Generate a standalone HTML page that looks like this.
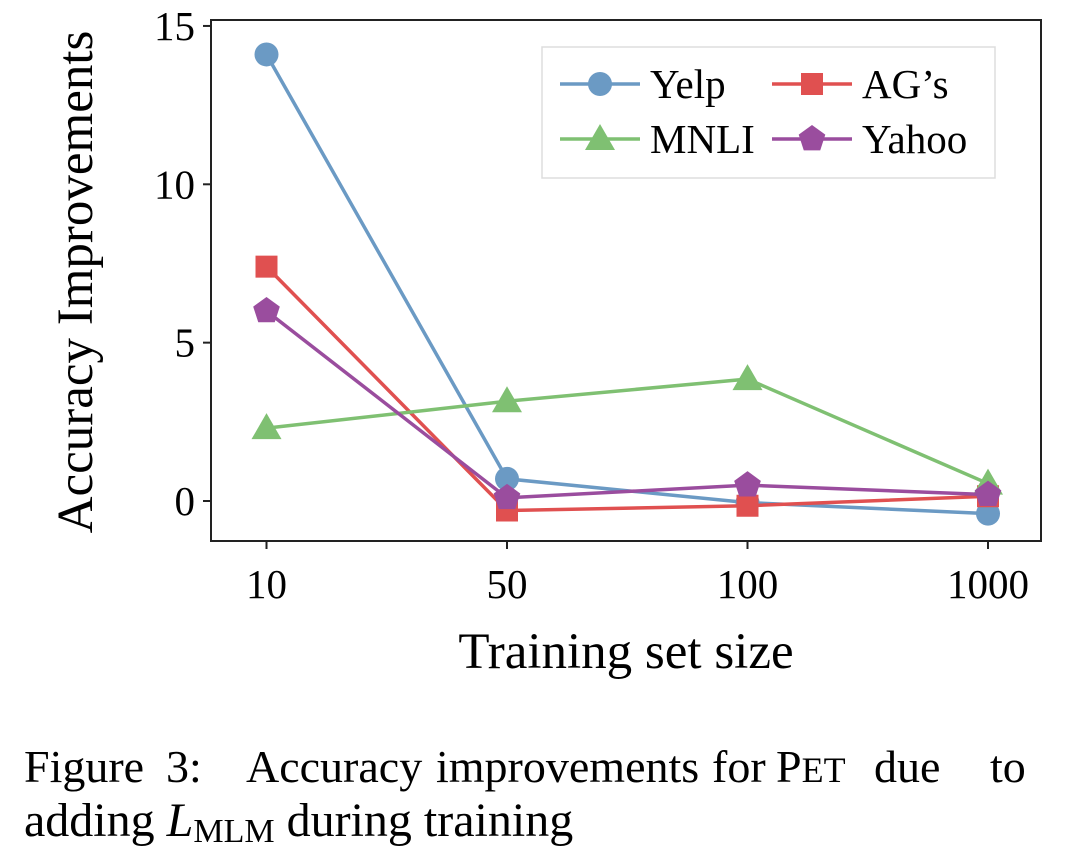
<!DOCTYPE html>
<html><head><meta charset="utf-8"><style>
body{margin:0;background:#fff;width:1080px;height:857px;overflow:hidden;font-family:"Liberation Serif",serif}
</style></head><body>
<svg width="1080" height="857" id="svg" font-family="Liberation Serif, serif">
<rect x="211" y="20" width="830" height="521" fill="none" stroke="#222" stroke-width="2"/>
<g id="ticks"></g>
<g id="series"></g>
<text x="92" y="282" font-size="51" text-anchor="middle" transform="rotate(-90 92 282)">Accuracy Improvements</text>
<text x="626" y="668" font-size="51" text-anchor="middle">Training set size</text>
<g>
<rect x="542" y="47" width="453" height="131" fill="#fff" stroke="#ddd" stroke-width="1.5"/>
<g id="legend"></g>
</g>
<text y="782" font-size="46"><tspan x="24">Figure</tspan><tspan x="166">3:</tspan><tspan x="246">Accuracy</tspan><tspan x="436">improvements</tspan><tspan x="712">for</tspan><tspan x="776">P<tspan font-size="36">ET</tspan></tspan><tspan x="874">due</tspan><tspan x="990">to</tspan></text>
<text x="24" y="836" font-size="48">adding <tspan font-style="italic">L</tspan><tspan font-size="34" dy="6">MLM</tspan><tspan dy="-6"> during training</tspan></text>
</svg>
<script>
const categories=["10","50","100","1000"];
const yTicks=[0,5,10,15];
const seriesNames=["Yelp","AG’s","MNLI","Yahoo"];
const yelp=[14.1,0.7,-0.05,-0.4];
const ags=[7.4,-0.3,-0.15,0.15];
const mnli=[2.3,3.15,3.85,0.55];
const yahoo=[6.0,0.1,0.5,0.2];
const NS="http://www.w3.org/2000/svg";
function xs(i){return 266.5+i*240.5;}
function ys(v){return 501-v*31.67;}
function mk(t,a,p){const e=document.createElementNS(NS,t);for(const k in a)e.setAttribute(k,a[k]);(p||document.getElementById('svg')).appendChild(e);return e;}
const tg=document.getElementById('ticks');
yTicks.forEach(v=>{
 const l=mk('line',{x1:203,x2:211,y1:ys(v),y2:ys(v),stroke:'#222','stroke-width':2},tg);
 
 
 const t=mk('text',{x:195,y:ys(v)+14,'font-size':41,'text-anchor':'end'},tg);t.textContent=v;
 
 
});
categories.forEach((c,i)=>{
 const l=mk('line',{x1:xs(i),x2:xs(i),y1:541,y2:549,stroke:'#222','stroke-width':2},tg);
 
 
 const t=mk('text',{x:xs(i),y:598,'font-size':41,'text-anchor':'middle'},tg);t.textContent=c;
 
 
});
const colors=["#6b9ac4","#e05050","#7fc072","#9a4d9e"];
const shapes=["circle","square","triangle","pentagon"];
function marker(shape,x,y,col,p){
 let e;
 if(shape==="circle")e=mk('circle',{cx:x,cy:y,r:12,fill:col},p);
 else if(shape==="square")e=mk('rect',{x:x-11,y:y-11,width:22,height:22,fill:col},p);
 else if(shape==="triangle")e=mk('polygon',{points:`${x},${y-15} ${x-15},${y+11} ${x+15},${y+11}`,fill:col},p);
 else{let pts=[];for(let k=0;k<5;k++){const a=-Math.PI/2+k*2*Math.PI/5;pts.push((x+14*Math.cos(a))+','+(y+14*Math.sin(a)));}e=mk('polygon',{points:pts.join(' '),fill:col},p);}
 return e;
}
const sg=document.getElementById('series');
[yelp,ags,mnli,yahoo].forEach((d,s)=>{
 const g=mk('g',{},sg);
 
 
 const pl=mk('polyline',{points:d.map((v,i)=>xs(i)+','+ys(v)).join(' '),fill:'none',stroke:colors[s],'stroke-width':3.5},g);
 
 
 d.forEach((v,i)=>{const m=marker(shapes[s],xs(i),ys(v),colors[s],g);
  
  });
});
const lg=document.getElementById('legend');
seriesNames.forEach((n,s)=>{
 const x0=s%2===0?560:772, y0=s<2?84:139;
 const g=mk('g',{},lg);
 
 
 mk('line',{x1:x0,x2:x0+80,y1:y0,y2:y0,stroke:colors[s],'stroke-width':3.5},g);
 marker(shapes[s],x0+40,y0,colors[s],g);
 const t=mk('text',{x:x0+90,y:y0+14,'font-size':41},g);t.textContent=n;
});
</script>
</body></html>
